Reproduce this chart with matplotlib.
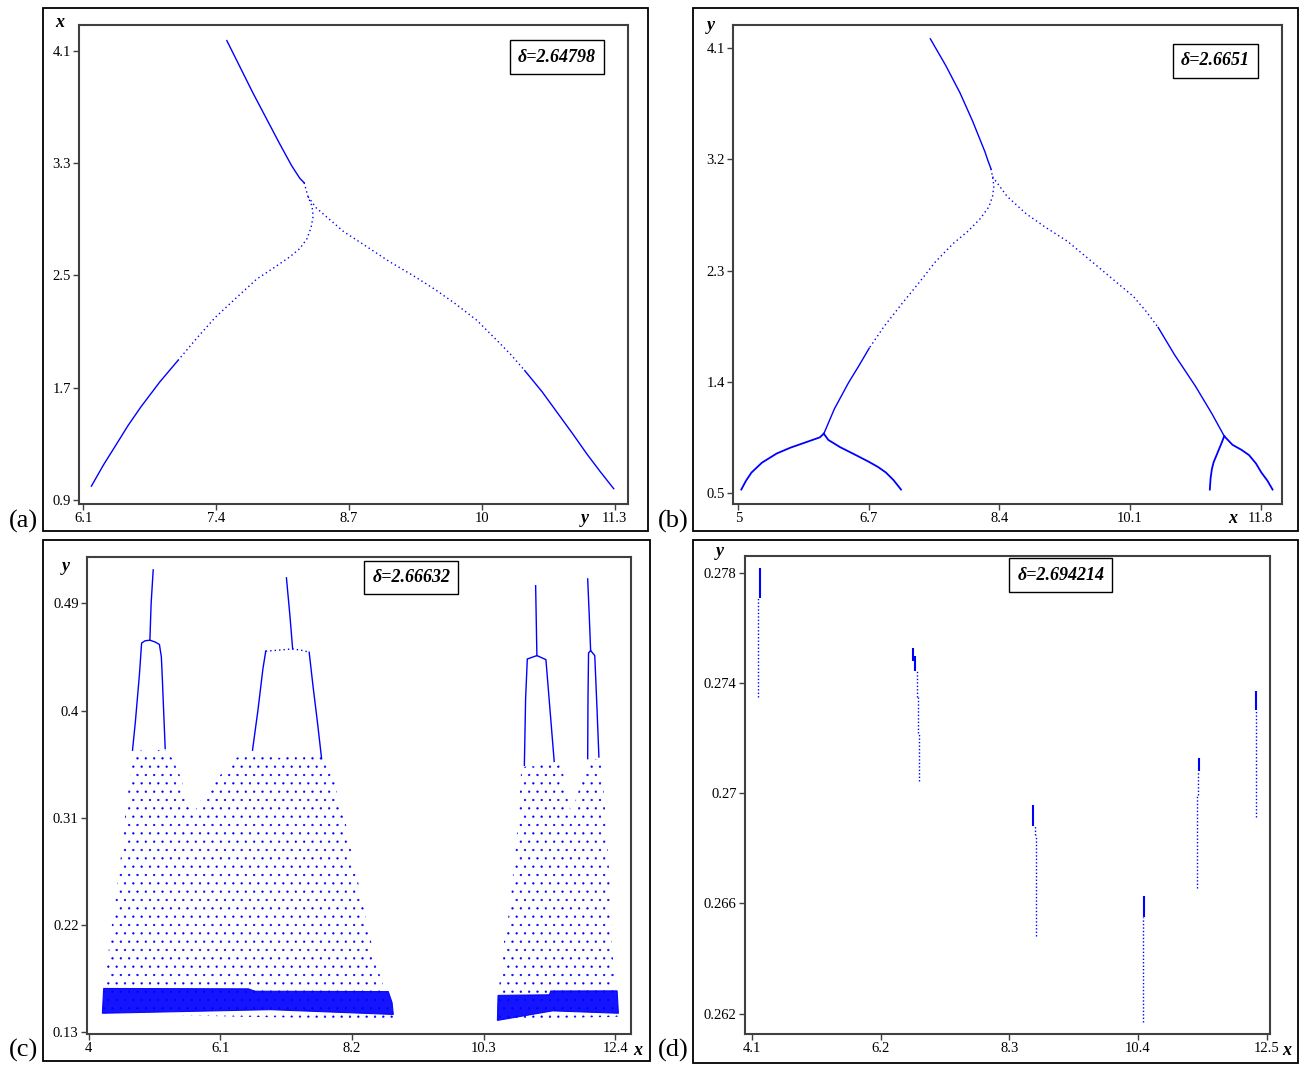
import matplotlib.pyplot as plt
from matplotlib.patches import Rectangle, Polygon

plt.rcParams['font.family'] = ['Liberation Serif', 'DejaVu Serif']
plt.rcParams['hatch.linewidth'] = 0.4

W, H = 1301, 1066
BLUE = '#0000ff'
SPINE = '#404040'

# ---------- (a) delta = 2.64798 ----------
a_top_x = [7.506, 7.63, 7.76, 7.89, 8.02, 8.14, 8.22, 8.262]
a_top_y = [4.171, 3.99, 3.80, 3.62, 3.44, 3.28, 3.19, 3.159]
a_ldot_x = [8.262, 8.30, 8.34, 8.35, 8.33, 8.29, 8.22, 8.12, 7.96, 7.797, 7.60, 7.393, 7.21, 7.03]
a_ldot_y = [3.159, 3.06, 2.99, 2.92, 2.84, 2.76, 2.69, 2.63, 2.55, 2.472, 2.34, 2.20, 2.05, 1.895]
a_left_x = [7.03, 6.85, 6.666, 6.54, 6.423, 6.30, 6.181]
a_left_y = [1.895, 1.74, 1.563, 1.43, 1.293, 1.15, 0.998]
a_rdot_x = [8.30, 8.38, 8.484, 8.65, 8.847, 9.09, 9.332, 9.54, 9.736, 9.95, 10.14, 10.29, 10.42]
a_rdot_y = [3.06, 2.98, 2.914, 2.81, 2.717, 2.60, 2.496, 2.40, 2.30, 2.18, 2.042, 1.93, 1.821]
a_right_x = [10.42, 10.59, 10.746, 10.89, 11.03, 11.16, 11.29]
a_right_y = [1.821, 1.67, 1.514, 1.37, 1.225, 1.10, 0.980]

# ---------- (b) delta = 2.6651 ----------
b_top_x = [7.5, 7.7, 7.887, 8.05, 8.21, 8.25, 8.29]
b_top_y = [4.175, 3.96, 3.737, 3.51, 3.263, 3.19, 3.123]
b_ldot_x = [8.29, 8.31, 8.328, 8.31, 8.263, 8.15, 7.995, 7.80, 7.565, 7.35, 7.134, 6.90, 6.704]
b_ldot_y = [3.123, 3.06, 2.984, 2.90, 2.816, 2.72, 2.621, 2.52, 2.37, 2.20, 2.035, 1.85, 1.672]
b_left_x = [6.704, 6.57, 6.435, 6.25, 6.113]
b_left_y = [1.672, 1.53, 1.393, 1.18, 0.98]
b_rdot_x = [8.31, 8.50, 8.747, 9.0, 9.285, 9.55, 9.823, 10.145, 10.31, 10.468]
b_rdot_y = [3.06, 2.90, 2.76, 2.65, 2.537, 2.40, 2.258, 2.09, 1.97, 1.839]
b_right_x = [10.468, 10.683, 10.952, 11.167, 11.328]
b_right_y = [1.839, 1.616, 1.365, 1.142, 0.96]
b_arm1_x = [6.113, 6.06, 5.90, 5.683, 5.50, 5.306, 5.17, 5.10, 5.038]
b_arm1_y = [0.98, 0.95, 0.915, 0.868, 0.82, 0.745, 0.665, 0.60, 0.528]
b_arm2_x = [6.113, 6.17, 6.328, 6.52, 6.704, 6.82, 6.919, 7.02, 7.118]
b_arm2_y = [0.98, 0.93, 0.87, 0.81, 0.751, 0.71, 0.667, 0.605, 0.528]
b_arm3_x = [11.328, 11.29, 11.247, 11.19, 11.167, 11.15, 11.14]
b_arm3_y = [0.96, 0.90, 0.835, 0.75, 0.695, 0.62, 0.528]
b_arm4_x = [11.328, 11.435, 11.55, 11.65, 11.74, 11.81, 11.89, 11.957]
b_arm4_y = [0.96, 0.89, 0.85, 0.807, 0.74, 0.667, 0.60, 0.528]

# ---------- (c) delta = 2.66632 ----------
c_tower_x = [
    [4.70, 4.746, 4.81, 4.845, 4.90, 4.977, 5.06, 5.129, 5.16, 5.175, 5.221],
    [6.614, 6.70, 6.78, 6.825],
    [7.518, 7.58, 7.65, 7.716],
    [10.95, 10.97, 10.997, 11.15, 11.294, 11.36, 11.426],
    [11.96, 11.965, 11.974, 12.007, 12.073, 12.11, 12.139],
]
c_tower_y = [
    [0.3667, 0.3908, 0.43, 0.4566, 0.4585, 0.459, 0.4575, 0.4554, 0.445, 0.4276, 0.3681],
    [0.3667, 0.40, 0.435, 0.4498],
    [0.4489, 0.42, 0.39, 0.3596],
    [0.354, 0.41, 0.4432, 0.4461, 0.4427, 0.40, 0.3573],
    [0.3596, 0.41, 0.4483, 0.4503, 0.4461, 0.40, 0.361],
]
c_flat_x = [6.825, 7.0, 7.254, 7.4, 7.518]
c_flat_y = [0.4498, 0.4505, 0.4517, 0.4505, 0.4489]
c_spike_x = [[4.977, 4.997, 5.03], [7.254, 7.21, 7.155],
             [11.15, 11.14, 11.13], [12.007, 11.985, 11.96]]
c_spike_y = [[0.459, 0.49, 0.518], [0.4517, 0.48, 0.5113],
             [0.4461, 0.475, 0.5047], [0.4503, 0.48, 0.5104]]
c_cloud1_x = [4.22, 4.30, 4.35, 4.44, 4.52, 4.58, 4.65, 4.71, 4.80, 4.88, 5.00,
              5.12, 5.22, 5.33, 5.44, 5.55, 5.70, 5.85, 6.00, 6.17, 6.35, 6.56,
              6.75, 7.0, 7.22, 7.45, 7.65, 7.82, 7.92, 8.0, 8.08, 8.20, 8.34,
              8.45, 8.57, 8.72, 8.8, 8.87, 6.5]
c_cloud1_y = [0.146, 0.19, 0.212, 0.246, 0.28, 0.311, 0.34, 0.363, 0.368, 0.365,
              0.362, 0.367, 0.367, 0.36, 0.348, 0.33, 0.316, 0.33, 0.34, 0.35,
              0.36, 0.366, 0.364, 0.36, 0.362, 0.362, 0.362, 0.358, 0.342, 0.32,
              0.311, 0.28, 0.246, 0.22, 0.19, 0.166, 0.16, 0.141, 0.143]
c_cloud2_x = [10.52, 10.55, 10.62, 10.72, 10.80, 10.85, 10.90, 11.0, 11.12, 11.30,
              11.43, 11.55, 11.62, 11.70, 11.80, 11.91, 12.0, 12.11, 12.17, 12.22,
              12.27, 12.32, 12.34, 12.38, 12.40, 12.44, 11.5]
c_cloud2_y = [0.139, 0.17, 0.204, 0.235, 0.28, 0.306, 0.351, 0.354, 0.353, 0.356,
              0.357, 0.355, 0.33, 0.314, 0.33, 0.351, 0.36, 0.359, 0.354, 0.33,
              0.292, 0.25, 0.207, 0.18, 0.167, 0.143, 0.142]
c_band1_x = [4.22, 4.24, 6.55, 6.65, 8.78, 8.84, 8.86, 6.9, 4.22]
c_band1_y = [0.147, 0.1668, 0.1665, 0.1645, 0.1642, 0.155, 0.145, 0.149, 0.146]
c_band2_x = [10.52, 10.53, 11.35, 11.37, 12.43, 12.45, 11.4, 10.52]
c_band2_y = [0.140, 0.161, 0.1615, 0.1647, 0.1648, 0.146, 0.148, 0.140]

# ---------- (d) delta = 2.694214 ----------
d_solid_x = [4.222, 6.73, 6.765, 8.693, 10.502, 11.397, 12.332]
d_solid_y0 = [0.27818, 0.27526, 0.27500, 0.26959, 0.26627, 0.27129, 0.27373]
d_solid_y1 = [0.27708, 0.27480, 0.27443, 0.26883, 0.26551, 0.27080, 0.27302]
d_dot_x = [4.202, 6.797, 6.81, 6.83, 8.714, 8.741, 10.482, 11.383, 11.363, 12.325]
d_dot_y0 = [0.27708, 0.27443, 0.2735, 0.2722, 0.26883, 0.2685, 0.26551, 0.2708, 0.26994, 0.27302]
d_dot_y1 = [0.27351, 0.2735, 0.2722, 0.27043, 0.2685, 0.26483, 0.26169, 0.26994, 0.26655, 0.26914]

DOT = (0, (1, 2.2))

fig = plt.figure(figsize=(W / 100, H / 100), dpi=100)


def px_axes(l, t, r, b):
    return fig.add_axes([l / W, 1 - b / H, (r - l) / W, (b - t) / H])


def frame(l, t, r, b):
    fig.patches.append(Rectangle((l / W, 1 - b / H), (r - l) / W, (b - t) / H,
                                 transform=fig.transFigure, fill=False,
                                 edgecolor='black', linewidth=1.3))


def style(ax, xlim, ylim, xt, xtl, yt, ytl, delta, dpos, xname, xnpos, yname, ynpos):
    ax.set_xlim(xlim)
    ax.set_ylim(ylim)
    ax.set_xticks(xt)
    ax.set_xticklabels(xtl)
    ax.set_yticks(yt)
    ax.set_yticklabels(ytl)
    for s in ax.spines.values():
        s.set_color(SPINE)
        s.set_linewidth(1.5)
    ax.tick_params(direction='out', length=4, width=1, color=SPINE,
                   labelsize=10.5, pad=2)
    ax.text(dpos[0], dpos[1], delta, transform=ax.transAxes, ha='center',
            va='center', fontsize=13, fontweight='bold', fontstyle='italic',
            bbox=dict(boxstyle='square,pad=0.45', facecolor='white',
                      edgecolor='black', linewidth=1))
    ax.text(xnpos[0], xnpos[1], xname, transform=ax.transAxes, ha='center',
            va='center', fontsize=13, fontweight='bold', fontstyle='italic')
    ax.text(ynpos[0], ynpos[1], yname, transform=ax.transAxes, ha='center',
            va='center', fontsize=13, fontweight='bold', fontstyle='italic')


# (a)
frame(43, 8, 648, 531)
ax = px_axes(79, 25, 628, 504)
ax.plot(a_top_x, a_top_y, color=BLUE, lw=1)
ax.plot(a_ldot_x, a_ldot_y, color=BLUE, lw=1, ls=DOT)
ax.plot(a_left_x, a_left_y, color=BLUE, lw=1)
ax.plot(a_rdot_x, a_rdot_y, color=BLUE, lw=1, ls=DOT)
ax.plot(a_right_x, a_right_y, color=BLUE, lw=1)
style(ax, (6.06, 11.43), (0.871, 4.282),
      [6.1, 7.4, 8.7, 10, 11.3], ['6.1', '7.4', '8.7', '10', '11.3'],
      [0.9, 1.7, 2.5, 3.3, 4.1], ['0.9', '1.7', '2.5', '3.3', '4.1'],
      'δ=2.64798', (0.87, 0.933), 'y', (0.922, -0.03), 'x', (-0.035, 1.005))

# (b)
frame(693, 8, 1298, 531)
ax = px_axes(733, 25, 1282, 504)
ax.plot(b_top_x, b_top_y, color=BLUE, lw=1)
ax.plot(b_ldot_x, b_ldot_y, color=BLUE, lw=1, ls=DOT)
ax.plot(b_left_x, b_left_y, color=BLUE, lw=1)
ax.plot(b_rdot_x, b_rdot_y, color=BLUE, lw=1, ls=DOT)
ax.plot(b_right_x, b_right_y, color=BLUE, lw=1)
for xs, ys in [(b_arm1_x, b_arm1_y), (b_arm2_x, b_arm2_y),
               (b_arm3_x, b_arm3_y), (b_arm4_x, b_arm4_y)]:
    ax.plot(xs, ys, color=BLUE, lw=1.3)
style(ax, (4.93, 12.08), (0.411, 4.287),
      [5, 6.7, 8.4, 10.1, 11.8], ['5', '6.7', '8.4', '10.1', '11.8'],
      [0.5, 1.4, 2.3, 3.2, 4.1], ['0.5', '1.4', '2.3', '3.2', '4.1'],
      'δ=2.6651', (0.879, 0.925), 'x', (0.911, -0.03), 'y', (-0.04, 0.998))

# (c)
frame(43, 540, 650, 1061)
ax = px_axes(87, 557, 631, 1034)
for xs, ys in [(c_cloud1_x, c_cloud1_y), (c_cloud2_x, c_cloud2_y)]:
    ax.add_patch(Polygon(list(zip(xs, ys)), closed=True, facecolor='none',
                         edgecolor=BLUE, linewidth=0, hatch='..'))
for xs, ys in [(c_band1_x, c_band1_y), (c_band2_x, c_band2_y)]:
    ax.add_patch(Polygon(list(zip(xs, ys)), closed=True, facecolor=BLUE,
                         edgecolor=BLUE, linewidth=0.8, alpha=0.92))
for xs, ys in zip(c_tower_x, c_tower_y):
    ax.plot(xs, ys, color=BLUE, lw=1)
for xs, ys in zip(c_spike_x, c_spike_y):
    ax.plot(xs, ys, color=BLUE, lw=1)
ax.plot(c_flat_x, c_flat_y, color=BLUE, lw=1, ls=DOT)
style(ax, (3.974, 12.651), (0.1286, 0.5288),
      [4, 6.1, 8.2, 10.3, 12.4], ['4', '6.1', '8.2', '10.3', '12.4'],
      [0.13, 0.22, 0.31, 0.4, 0.49], ['0.13', '0.22', '0.31', '0.4', '0.49'],
      'δ=2.66632', (0.596, 0.957), 'x', (1.012, -0.034), 'y', (-0.039, 0.981))

# (d)
frame(693, 540, 1298, 1063)
ax = px_axes(745, 556, 1270, 1034)
ax.vlines(d_solid_x, d_solid_y1, d_solid_y0, color=BLUE, lw=1.5)
ax.vlines(d_dot_x, d_dot_y1, d_dot_y0, color=BLUE, lw=1, linestyles=[(0, (1, 1.5))])
style(ax, (3.985, 12.554), (0.261261, 0.278615),
      [4.1, 6.2, 8.3, 10.4, 12.5], ['4.1', '6.2', '8.3', '10.4', '12.5'],
      [0.262, 0.266, 0.27, 0.274, 0.278], ['0.262', '0.266', '0.27', '0.274', '0.278'],
      'δ=2.694214', (0.6016, 0.96), 'x', (1.032, -0.034), 'y', (-0.048, 1.01))

# panel letters
for lab, px, py in [('(a)', 23, 521), ('(b)', 673, 521), ('(c)', 23, 1050), ('(d)', 673, 1050)]:
    fig.text(px / W, 1 - py / H, lab, ha='center', va='center', fontsize=19)

fig.savefig('out.png', dpi=100)
